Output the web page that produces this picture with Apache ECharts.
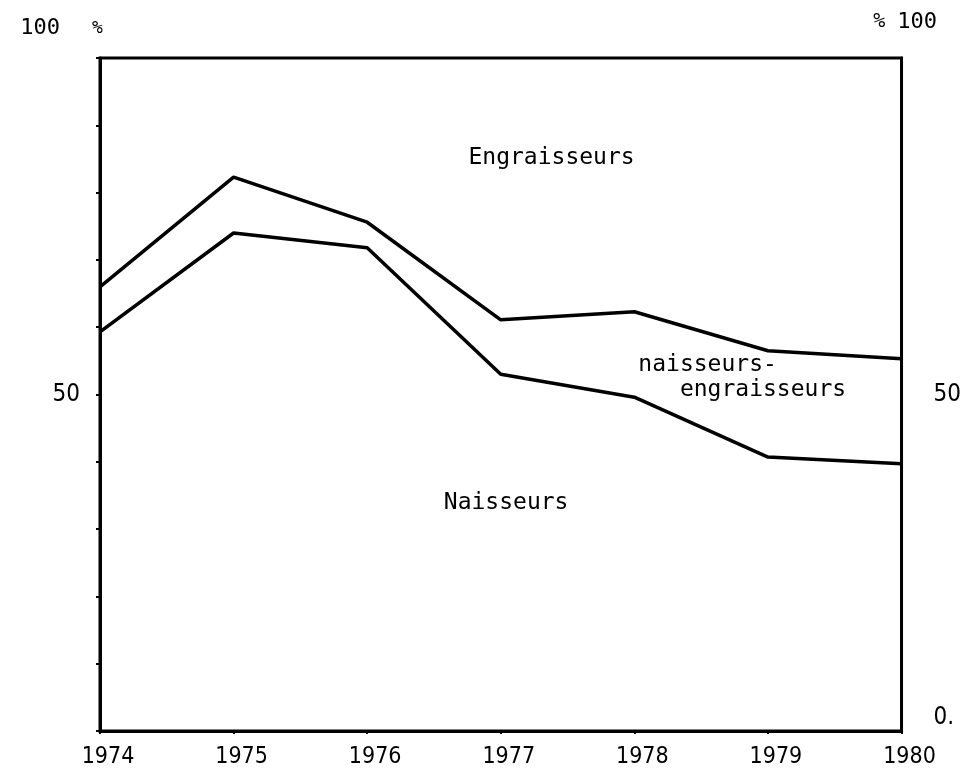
<!DOCTYPE html>
<html>
<head>
<meta charset="utf-8">
<script src="https://cdn.jsdelivr.net/npm/echarts@6/dist/echarts.min.js"></script>
<style>
html, body { margin: 0; padding: 0; background: #fff; }
#main { width: 964px; height: 771px; }
</style>
</head>
<body>
<div id="main"></div>
<script>
const years = [1974, 1975, 1976, 1977, 1978, 1979, 1980];
// cumulative share: naisseurs
const naisseurs = [59.3, 74.0, 71.8, 53.0, 49.6, 40.7, 39.7];
// cumulative share: naisseurs + naisseurs-engraisseurs
const naisseursEngr = [66.0, 82.3, 75.6, 61.1, 62.3, 56.5, 55.3];

const zoneLabels = [
	{ text: 'Engraisseurs', x: 1977.38, y: 85.1, align: 'center' },
	{ text: 'naisseurs-\n   engraisseurs', x: 1978.03, y: 52.5, align: 'left' },
	{ text: 'Naisseurs', x: 1977.04, y: 33.9, align: 'center' }
];

const mono = 'DejaVu Sans Mono';
const digits = '"Liberation Sans Narrow", "DejaVu Sans Condensed", sans-serif';
const myChart = echarts.init(document.getElementById('main'));

function pairs(vals) {
	return years.map(function (y, i) {
		return [y, vals[i]];
	});
}

const option = {
	backgroundColor: '#fff',
	animation: false,
	grid: {
		left: 100,
		right: 62,
		top: 58,
		bottom: 40,
		show: true,
		borderColor: '#000',
		borderWidth: 3
	},
	xAxis: {
		type: 'value',
		min: 1974,
		max: 1980,
		interval: 1,
		splitLine: { show: false },
		axisLine: { lineStyle: { color: '#000', width: 3 } },
		axisTick: { show: true, length: 3, lineStyle: { color: '#000', width: 2 } },
		axisLabel: {
			color: '#000',
			fontFamily: digits,
			fontSize: 23,
			margin: 15,
			padding: [0, 0, 0, 16],
			formatter: function (v) { return String(v); }
		}
	},
	yAxis: [
		{
			type: 'value',
			min: 0,
			max: 100,
			interval: 10,
			position: 'left',
			splitLine: { show: false },
			axisLine: { show: true, lineStyle: { color: '#000', width: 3 } },
			axisTick: { show: true, length: 4, lineStyle: { color: '#000', width: 2 } },
			axisLabel: {
				color: '#000',
				fontFamily: digits,
				fontSize: 24,
				margin: 20,
				formatter: function (v) { return v === 50 ? '50' : ''; }
			},
			name: '{n|100}{p|%}',
			nameLocation: 'end',
			nameGap: 30,
			nameTextStyle: {
				color: '#000',
				align: 'center',
				verticalAlign: 'middle',
				padding: [0, 77, 0, 0],
				rich: {
					n: { fontFamily: mono, fontSize: 22, color: '#000' },
					p: { fontFamily: mono, fontSize: 18, fontStyle: 'italic', color: '#000', padding: [0, 0, 0, 32] }
				}
			}
		},
		{
			type: 'value',
			min: 0,
			max: 100,
			interval: 10,
			position: 'right',
			splitLine: { show: false },
			axisLine: { show: true, lineStyle: { color: '#000', width: 3 } },
			axisTick: { show: false },
			axisLabel: {
				color: '#000',
				fontFamily: digits,
				fontSize: 24,
				margin: 32,
				formatter: function (v) {
					if (v === 50) return '50';
					if (v === 0) return '{z|0.}';
					return '';
				},
				rich: {
					z: { fontFamily: digits, fontSize: 24, color: '#000', padding: [0, 0, 26, 0] }
				}
			},
			name: '{p|%}{n|100}',
			nameLocation: 'end',
			nameGap: 36,
			nameTextStyle: {
				color: '#000',
				align: 'center',
				verticalAlign: 'middle',
				padding: [0, 0, 0, 7],
				rich: {
					n: { fontFamily: mono, fontSize: 22, color: '#000', padding: [0, 0, 0, 12] },
					p: { fontFamily: mono, fontSize: 20, color: '#000' }
				}
			}
		}
	],
	series: [
		{
			name: 'Naisseurs',
			type: 'line',
			data: pairs(naisseurs),
			showSymbol: false,
			lineStyle: { color: '#000', width: 3.5 },
			markPoint: {
				symbol: 'circle',
				symbolSize: 0,
				label: {
					show: true,
					color: '#000',
					fontFamily: mono,
					fontSize: 23,
					lineHeight: 25,
					formatter: '{b}'
				},
				data: zoneLabels.map(function (z) {
					return {
						name: z.text,
						coord: [z.x, z.y],
						label: { align: z.align }
					};
				})
			}
		},
		{
			name: 'Naisseurs-engraisseurs',
			type: 'line',
			data: pairs(naisseursEngr),
			showSymbol: false,
			lineStyle: { color: '#000', width: 3.5 }
		}
	]
};

myChart.setOption(option);
</script>
</body>
</html>
